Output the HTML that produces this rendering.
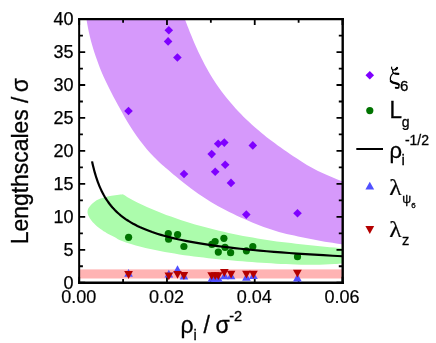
<!DOCTYPE html>
<html><head><meta charset="utf-8"><title>chart</title>
<style>
html,body{margin:0;padding:0;background:#fff;}
body{width:436px;height:343px;overflow:hidden;}
svg{display:block;}
text{font-family:"Liberation Sans",sans-serif;fill:#000;filter:grayscale(1);}
.b text,text.b{stroke:#000;stroke-width:0.3px;}
</style></head><body>
<svg width="436" height="343" viewBox="0 0 436 343">
<rect width="436" height="343" fill="#fff"/>
<defs><clipPath id="cp"><rect x="79.2" y="19.1" width="263.3" height="263.65"/></clipPath></defs>
<g clip-path="url(#cp)">
<path d="M182.2 12.0C182.4 12.7 183.2 14.7 183.7 16.0C184.2 17.3 184.7 18.7 185.2 20.0C185.7 21.3 186.2 22.7 186.7 24.0C187.2 25.3 187.7 26.7 188.3 28.0C188.8 29.3 189.3 30.7 189.8 32.0C190.4 33.3 190.9 34.7 191.5 36.0C192.0 37.3 192.6 38.7 193.1 40.0C193.7 41.3 194.2 42.7 194.8 44.0C195.4 45.3 196.0 46.7 196.6 48.0C197.2 49.3 197.8 50.7 198.4 52.0C199.1 53.3 199.7 54.7 200.4 56.0C201.0 57.3 201.7 58.7 202.4 60.0C203.1 61.3 203.7 62.7 204.4 64.0C205.1 65.3 205.8 66.7 206.6 68.0C207.3 69.3 208.1 70.7 208.8 72.0C209.6 73.3 210.4 74.7 211.2 76.0C212.0 77.3 212.8 78.7 213.7 80.0C214.6 81.3 215.4 82.7 216.3 84.0C217.2 85.3 218.2 86.7 219.1 88.0C220.1 89.3 221.0 90.7 222.0 92.0C223.0 93.3 224.1 94.7 225.1 96.0C226.2 97.3 227.2 98.7 228.4 100.0C229.5 101.3 230.6 102.7 231.8 104.0C232.9 105.4 234.1 106.8 235.4 108.2C236.6 109.5 237.9 110.9 239.2 112.3C240.5 113.6 241.9 115.0 243.2 116.4C244.6 117.8 246.0 119.2 247.5 120.5C248.9 121.9 250.4 123.3 252.0 124.7C253.5 126.1 255.0 127.4 256.6 128.8C258.2 130.2 259.9 131.6 261.6 133.0C263.2 134.4 265.0 135.8 266.7 137.2C268.5 138.5 270.3 139.9 272.2 141.3C274.0 142.7 275.9 144.1 277.8 145.5C279.8 146.9 281.8 148.3 283.8 149.7C285.8 151.1 287.9 152.5 290.0 153.9C292.2 155.3 294.4 156.8 296.6 158.2C298.8 159.7 301.1 161.2 303.4 162.7C305.7 164.1 308.1 165.6 310.6 167.0C313.0 168.3 315.5 169.7 318.0 170.9C320.6 172.2 323.2 173.3 325.8 174.5C328.5 175.7 331.2 176.7 334.0 177.9C336.7 179.0 341.0 180.7 342.5 181.3L344.0 244.5C342.7 244.3 338.9 243.8 336.3 243.4C333.8 243.0 331.2 242.6 328.7 242.2C326.1 241.8 323.6 241.4 321.0 240.9C318.5 240.5 315.9 240.0 313.4 239.5C310.8 239.0 308.3 238.5 305.7 238.0C303.2 237.4 300.6 236.9 298.1 236.4C295.5 235.9 293.0 235.4 290.4 234.8C287.9 234.2 285.3 233.7 282.8 233.0C280.2 232.3 277.7 231.6 275.1 230.8C272.6 230.0 270.0 229.2 267.5 228.3C264.9 227.4 262.4 226.4 259.8 225.4C257.3 224.4 254.7 223.4 252.2 222.4C249.6 221.3 247.1 220.3 244.5 219.1C242.0 218.0 239.4 216.9 236.9 215.7C234.3 214.6 231.8 213.3 229.2 212.1C226.7 210.8 224.1 209.5 221.6 208.1C219.0 206.7 216.5 205.3 213.9 203.7C211.4 202.2 208.8 200.6 206.3 199.0C203.7 197.3 201.2 195.6 198.6 193.9C196.1 192.1 193.5 190.2 191.0 188.4C188.4 186.5 185.9 184.5 183.3 182.5C180.8 180.5 178.2 178.4 175.7 176.3C173.1 174.2 170.2 171.6 168.0 169.7C165.8 167.8 164.7 167.1 162.3 165.0C160.0 162.9 156.6 159.6 154.0 156.9C151.3 154.3 148.9 151.6 146.6 148.9C144.3 146.2 142.2 143.5 140.1 140.8C138.1 138.2 136.2 135.5 134.4 132.8C132.6 130.1 130.9 127.4 129.2 124.7C127.5 122.1 126.0 119.4 124.4 116.7C122.9 114.0 121.4 111.3 119.9 108.6C118.4 105.9 116.9 103.3 115.5 100.6C114.0 97.9 112.6 95.2 111.3 92.5C109.9 89.8 108.6 87.2 107.3 84.5C106.0 81.8 104.7 79.1 103.5 76.4C102.3 73.7 101.2 71.1 100.1 68.4C99.0 65.7 98.0 63.0 97.1 60.3C96.1 57.6 95.2 54.9 94.3 52.3C93.5 49.6 92.6 46.9 91.9 44.2C91.1 41.5 90.4 38.8 89.8 36.2C89.1 33.5 88.5 30.8 88.0 28.1C87.5 25.4 87.0 22.7 86.6 20.1C86.2 17.4 85.7 13.3 85.5 12.0Z" fill="#D699FB"/>
<path d="M122.9 194.2C124.5 195.2 129.3 198.3 132.5 200.0C135.7 201.8 138.9 203.2 142.1 204.7C145.3 206.2 148.5 207.6 151.7 209.0C154.9 210.4 158.1 211.7 161.4 212.9C164.6 214.2 167.8 215.4 171.0 216.6C174.2 217.7 177.4 218.8 180.6 219.9C183.8 221.0 187.0 222.0 190.2 222.9C193.4 223.9 196.6 224.8 199.8 225.7C203.0 226.6 206.2 227.5 209.4 228.3C212.6 229.1 215.8 229.9 219.0 230.7C222.2 231.4 225.4 232.2 228.6 232.9C231.8 233.6 235.1 234.3 238.3 234.9C241.5 235.6 244.7 236.2 247.9 236.8C251.1 237.4 254.3 237.9 257.5 238.5C260.7 239.0 263.9 239.5 267.1 240.0C270.3 240.5 273.5 241.0 276.7 241.4C279.9 241.8 283.1 242.2 286.3 242.6C289.5 243.0 292.7 243.3 295.9 243.7C299.1 244.0 302.3 244.4 305.5 244.7C308.8 245.0 312.0 245.4 315.2 245.7C318.4 246.0 321.6 246.4 324.8 246.7C328.0 247.0 331.2 247.3 334.4 247.6C337.6 247.9 342.4 248.4 344.0 248.6L344.0 263.4C342.4 263.5 337.5 263.8 334.3 264.0C331.1 264.2 327.9 264.3 324.6 264.4C321.4 264.5 318.2 264.6 315.0 264.7C311.7 264.7 308.5 264.8 305.3 264.7C302.0 264.7 298.8 264.6 295.6 264.5C292.4 264.4 289.1 264.3 285.9 264.1C282.7 264.0 279.4 263.8 276.2 263.7C273.0 263.5 269.8 263.3 266.5 263.1C263.3 262.9 260.1 262.7 256.9 262.5C253.6 262.2 250.4 262.0 247.2 261.8C243.9 261.5 240.7 261.2 237.5 261.0C234.3 260.7 231.0 260.4 227.8 260.1C224.6 259.8 221.4 259.5 218.1 259.2C214.9 258.9 211.7 258.5 208.4 258.2C205.2 257.8 202.0 257.5 198.8 257.1C195.5 256.7 192.3 256.3 189.1 255.8C185.9 255.4 182.6 254.9 179.4 254.4C176.2 253.9 172.9 253.4 169.7 252.8C166.5 252.3 163.3 251.7 160.0 251.0C156.8 250.4 153.6 249.7 150.3 249.0C147.1 248.3 143.9 247.5 140.7 246.7C137.4 245.9 134.2 245.0 131.0 244.0C127.8 243.0 124.0 242.0 121.3 240.8C118.6 239.7 117.3 238.5 114.9 237.2C112.5 235.9 109.3 234.5 106.9 233.2C104.5 231.8 102.6 230.7 100.5 229.1C98.4 227.5 95.9 225.4 94.1 223.5C92.3 221.6 90.7 219.6 89.6 217.9C88.5 216.2 87.8 214.7 87.6 213.1C87.4 211.5 87.5 210.0 88.4 208.3C89.4 206.6 91.3 204.3 93.3 202.7C95.3 201.1 97.7 199.7 100.5 198.6C103.3 197.5 106.4 196.6 110.1 195.9C113.8 195.2 120.8 194.5 122.9 194.2Z" fill="#ACFCAC"/>
<rect x="79.2" y="269.4" width="263.3" height="9.1" fill="#FFB3B3"/>
</g>
<g stroke="#000" stroke-width="1.8" fill="none" stroke-linecap="butt">
<path d="M79.15 18V283.9" stroke-width="2.0"/><path d="M78.15 19.1H343.9" stroke-width="2.2"/><path d="M78.15 282.75H343.9" stroke-width="2.3"/><path d="M342.7 18V283.9" stroke-width="2.4"/>
<path d="M79.2 282.75h6.0M342.5 282.75h-6.0M79.2 266.27h3.7M342.5 266.27h-3.7M79.2 249.79h6.0M342.5 249.79h-6.0M79.2 233.32h3.7M342.5 233.32h-3.7M79.2 216.84h6.0M342.5 216.84h-6.0M79.2 200.36h3.7M342.5 200.36h-3.7M79.2 183.88h6.0M342.5 183.88h-6.0M79.2 167.40h3.7M342.5 167.40h-3.7M79.2 150.93h6.0M342.5 150.93h-6.0M79.2 134.45h3.7M342.5 134.45h-3.7M79.2 117.97h6.0M342.5 117.97h-6.0M79.2 101.49h3.7M342.5 101.49h-3.7M79.2 85.01h6.0M342.5 85.01h-6.0M79.2 68.53h3.7M342.5 68.53h-3.7M79.2 52.06h6.0M342.5 52.06h-6.0M79.2 35.58h3.7M342.5 35.58h-3.7M79.2 19.10h6.0M342.5 19.10h-6.0M79.20 282.75v-6.0M79.20 19.1v6.0M123.08 282.75v-3.7M123.08 19.1v3.7M166.97 282.75v-6.0M166.97 19.1v6.0M210.85 282.75v-3.7M210.85 19.1v3.7M254.73 282.75v-6.0M254.73 19.1v6.0M298.62 282.75v-3.7M298.62 19.1v3.7M342.50 282.75v-6.0M342.50 19.1v6.0"/>
</g>
<g clip-path="url(#cp)">
<path d="M168.8 25.9L173.1 30.2L168.8 34.5L164.5 30.2Z" fill="#7F00FF"/>
<path d="M168.1 37.1L172.4 41.4L168.1 45.7L163.8 41.4Z" fill="#7F00FF"/>
<path d="M177.4 53.2L181.7 57.5L177.4 61.8L173.1 57.5Z" fill="#7F00FF"/>
<path d="M128.5 106.7L132.8 111.0L128.5 115.3L124.2 111.0Z" fill="#7F00FF"/>
<path d="M218.2 139.5L222.5 143.8L218.2 148.1L213.9 143.8Z" fill="#7F00FF"/>
<path d="M224.3 138.3L228.6 142.6L224.3 146.9L220.0 142.6Z" fill="#7F00FF"/>
<path d="M252.8 141.1L257.1 145.4L252.8 149.7L248.5 145.4Z" fill="#7F00FF"/>
<path d="M211.7 149.8L216.0 154.1L211.7 158.4L207.4 154.1Z" fill="#7F00FF"/>
<path d="M225.2 160.4L229.5 164.7L225.2 169.0L220.9 164.7Z" fill="#7F00FF"/>
<path d="M215.2 167.4L219.5 171.7L215.2 176.0L210.9 171.7Z" fill="#7F00FF"/>
<path d="M231.0 178.6L235.3 182.9L231.0 187.2L226.7 182.9Z" fill="#7F00FF"/>
<path d="M246.3 210.3L250.6 214.6L246.3 218.9L242.0 214.6Z" fill="#7F00FF"/>
<path d="M297.5 208.9L301.8 213.2L297.5 217.5L293.2 213.2Z" fill="#7F00FF"/>
<path d="M184.0 169.7L188.3 174.0L184.0 178.3L179.7 174.0Z" fill="#7F00FF"/>
<circle cx="128.6" cy="237.3" r="3.6" fill="#007300"/>
<circle cx="168.3" cy="233.6" r="3.6" fill="#007300"/>
<circle cx="168.6" cy="239.2" r="3.6" fill="#007300"/>
<circle cx="177.6" cy="234.6" r="3.6" fill="#007300"/>
<circle cx="183.9" cy="246.5" r="3.6" fill="#007300"/>
<circle cx="211.9" cy="244.4" r="3.6" fill="#007300"/>
<circle cx="215.1" cy="241.5" r="3.6" fill="#007300"/>
<circle cx="223.9" cy="238.3" r="3.6" fill="#007300"/>
<circle cx="225.0" cy="247.3" r="3.6" fill="#007300"/>
<circle cx="218.3" cy="252.1" r="3.6" fill="#007300"/>
<circle cx="230.6" cy="252.7" r="3.6" fill="#007300"/>
<circle cx="246.4" cy="250.8" r="3.6" fill="#007300"/>
<circle cx="252.8" cy="246.5" r="3.6" fill="#007300"/>
<circle cx="297.5" cy="256.7" r="3.6" fill="#007300"/>
<path d="M92.06 161.38L92.55 163.66L93.07 165.89L93.60 168.08L94.15 170.23L94.73 172.35L95.33 174.42L95.95 176.45L96.59 178.44L97.26 180.40L97.95 182.32L98.67 184.21L99.42 186.06L100.20 187.87L101.01 189.65L101.85 191.40L102.72 193.12L103.62 194.80L104.56 196.45L105.54 198.07L106.55 199.66L107.60 201.22L108.70 202.75L109.83 204.26L111.01 205.73L112.23 207.18L113.50 208.60L114.82 209.99L116.19 211.36L117.62 212.70L119.09 214.02L120.63 215.31L122.22 216.58L123.88 217.82L125.59 219.05L127.38 220.24L129.23 221.42L131.16 222.57L133.15 223.71L135.23 224.82L137.38 225.91L139.62 226.98L141.95 228.03L144.36 229.06L146.87 230.07L149.47 231.06L152.17 232.04L154.98 232.99L157.89 233.93L160.92 234.85L164.06 235.75L167.33 236.64L170.72 237.51L174.24 238.36L177.89 239.20L181.69 240.02L185.63 240.83L189.72 241.62L193.98 242.39L198.39 243.16L202.97 243.90L207.73 244.64L212.68 245.36L217.81 246.06L223.14 246.76L228.68 247.44L234.43 248.10L240.40 248.76L246.60 249.40L253.04 250.03L259.73 250.65L266.67 251.26L273.88 251.86L281.37 252.44L289.14 253.02L297.22 253.58L305.61 254.13L314.31 254.67L323.36 255.21L332.75 255.73L342.50 256.24" fill="none" stroke="#000" stroke-width="2.2" stroke-linejoin="round"/>
<path d="M128.6 269.0L132.9 276.8L124.2 276.8Z" fill="#5050FF"/>
<path d="M168.8 269.8L173.2 277.6L164.5 277.6Z" fill="#5050FF"/>
<path d="M177.5 265.3L181.8 273.1L173.2 273.1Z" fill="#5050FF"/>
<path d="M184.0 271.7L188.3 279.5L179.7 279.5Z" fill="#5050FF"/>
<path d="M211.9 273.9L216.2 281.7L207.6 281.7Z" fill="#5050FF"/>
<path d="M215.2 273.9L219.5 281.7L210.8 281.7Z" fill="#5050FF"/>
<path d="M218.3 273.9L222.7 281.7L214.0 281.7Z" fill="#5050FF"/>
<path d="M224.5 271.5L228.8 279.3L220.2 279.3Z" fill="#5050FF"/>
<path d="M231.1 271.5L235.4 279.3L226.8 279.3Z" fill="#5050FF"/>
<path d="M246.4 273.0L250.8 280.8L242.1 280.8Z" fill="#5050FF"/>
<path d="M253.4 271.3L257.8 279.1L249.1 279.1Z" fill="#5050FF"/>
<path d="M297.4 273.6L301.8 281.4L293.0 281.4Z" fill="#5050FF"/>
<path d="M124.2 271.1L132.9 271.1L128.6 278.9Z" fill="#B40000"/>
<path d="M164.5 272.4L173.2 272.4L168.8 280.2Z" fill="#B40000"/>
<path d="M173.2 271.0L181.8 271.0L177.5 278.8Z" fill="#B40000"/>
<path d="M179.6 272.1L188.2 272.1L183.9 279.9Z" fill="#B40000"/>
<path d="M207.3 272.3L216.0 272.3L211.7 280.1Z" fill="#B40000"/>
<path d="M210.8 272.3L219.5 272.3L215.2 280.1Z" fill="#B40000"/>
<path d="M214.0 272.3L222.7 272.3L218.3 280.1Z" fill="#B40000"/>
<path d="M220.0 269.1L228.7 269.1L224.3 276.9Z" fill="#B40000"/>
<path d="M226.8 270.7L235.4 270.7L231.1 278.5Z" fill="#B40000"/>
<path d="M242.1 270.7L250.8 270.7L246.4 278.5Z" fill="#B40000"/>
<path d="M249.1 270.7L257.8 270.7L253.4 278.5Z" fill="#B40000"/>
<path d="M293.0 269.7L301.8 269.7L297.4 277.5Z" fill="#B40000"/>
</g>
<g font-size="18" text-anchor="end" stroke="#000" stroke-width="0.25">
<text x="73.5" y="288.8">0</text>
<text x="73.5" y="255.8">5</text>
<text x="73.5" y="222.8">10</text>
<text x="73.5" y="189.9">15</text>
<text x="73.5" y="156.9">20</text>
<text x="73.5" y="124.0">25</text>
<text x="73.5" y="91.0">30</text>
<text x="73.5" y="58.1">35</text>
<text x="73.5" y="25.1">40</text>
</g>
<g font-size="18" text-anchor="middle" stroke="#000" stroke-width="0.2">
<text x="78.7" y="303.1">0.00</text>
<text x="166.5" y="303.1">0.02</text>
<text x="254.2" y="303.1">0.04</text>
<text x="342.0" y="303.1">0.06</text>
</g>
<text class="b" transform="translate(27.6 244.2) rotate(-90) scale(1 1.08)" font-size="22.9">Lengthscales /<tspan dx="4.4">σ</tspan></text>
<g class="b" font-size="23"><text x="180.4" y="333.1">ρ</text><text x="193.4" y="339.9" font-size="14.5">i</text><text x="203.6" y="333.1">/</text><text x="215.4" y="333.1">σ</text><text x="229.2" y="321.2" font-size="14.6">-2</text></g>
<g class="b">
<path d="M369.8 71.0L374.1 75.3L369.8 79.6L365.5 75.3Z" fill="#7F00FF"/>
<path d="M391.65 67.11 C391.32 68.26 391.73 69.56 393.20 69.97 C394.67 70.22 396.15 69.24 397.05 67.93" fill="none" stroke="#000" stroke-width="1.2" stroke-linecap="round" stroke-linejoin="round"/><path d="M395.49 69.40 C396.15 68.99 396.72 68.50 397.05 67.93" fill="none" stroke="#000" stroke-width="2.1" stroke-linecap="round" stroke-linejoin="round"/><path d="M392.87 69.89 C392.38 71.04 392.71 72.43 393.86 73.17 C395.00 73.74 396.64 73.82 398.27 73.90" fill="none" stroke="#000" stroke-width="1.2" stroke-linecap="round" stroke-linejoin="round"/><path d="M395.00 73.57 C396.23 73.82 397.29 73.90 398.36 73.90" fill="none" stroke="#000" stroke-width="2.1" stroke-linecap="round" stroke-linejoin="round"/><path d="M393.53 73.17 C391.40 74.47 390.17 77.09 390.34 79.55 C390.50 81.51 392.22 82.58 394.59 83.07 C397.05 83.56 398.93 84.13 399.09 85.77 C399.18 87.16 397.87 88.14 395.82 87.73" fill="none" stroke="#000" stroke-width="1.2" stroke-linecap="round" stroke-linejoin="round"/><path d="M390.91 81.18 C392.14 82.49 393.77 82.90 395.17 83.15 C396.64 83.48 398.11 83.80 398.77 84.62" fill="none" stroke="#000" stroke-width="2.3" stroke-linecap="round" stroke-linejoin="round"/><path d="M398.44 87.57 C397.62 87.98 396.64 87.98 395.74 87.73" fill="none" stroke="#000" stroke-width="1.9" stroke-linecap="round" stroke-linejoin="round"/>
<text x="399.9" y="91.0" font-size="15.0">6</text>
<circle cx="369.8" cy="110.6" r="3.6" fill="#007300"/>
<text transform="translate(389.4 118.1) scale(1.000 1.050)" font-size="22.5">L</text>
<text x="401.7" y="126.5" font-size="14.0">g</text>
<path d="M356.3 149H383" stroke="#000" stroke-width="2"/>
<text x="389.4" y="158.0" font-size="22.0">ρ</text>
<text x="401.6" y="165.1" font-size="15.0">i</text>
<text x="404.9" y="145.4" font-size="14.0">-1/2</text>
<path d="M369.8 181.8L374.2 189.6L365.4 189.6Z" fill="#5050FF"/>
<text transform="translate(389.2 194.6) scale(1.130 1.000)" font-size="22.5" style="font-family:'Liberation Serif',serif;stroke-width:0.2px">λ</text>
<text x="402.2" y="203.3" font-size="12.5">ψ</text>
<text x="411.2" y="207.6" font-size="8.0">6</text>
<path d="M365.4 226.1L374.2 226.1L369.8 233.9Z" fill="#B40000"/>
<text transform="translate(389.2 236.9) scale(1.130 1.000)" font-size="22.5" style="font-family:'Liberation Serif',serif;stroke-width:0.2px">λ</text>
<text x="401.9" y="244.5" font-size="14.6">z</text>
</g>
</svg></body></html>
